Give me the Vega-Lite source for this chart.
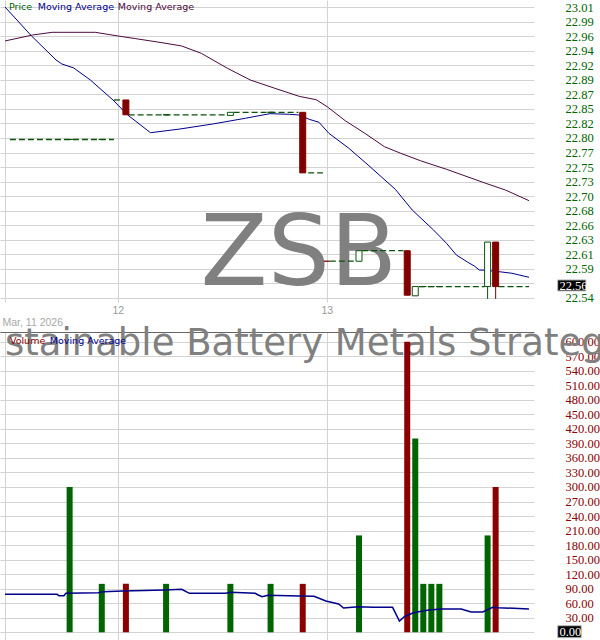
{
  "$schema": "https://vega.github.io/schema/vega-lite/v6.json",
  "padding": 0,
  "background": "white",
  "bounds": "flush",
  "spacing": 30,
  "resolve": {"scale": {"color": "independent", "fill": "independent", "stroke": "independent"}},
  "config": {
    "view": {"stroke": null},
    "axis": {"labelFont": "Liberation Sans", "titleFont": "Liberation Sans"}
  },
  "datasets": {
    "one": [{}],
    "candles": [
      {"k": -6, "o": 22.796, "h": 22.796, "l": 22.796, "c": 22.796, "v": 300, "dir": "up"},
      {"k": -2, "o": 22.796, "h": 22.796, "l": 22.796, "c": 22.796, "v": 100, "dir": "up"},
      {"k": 1, "o": 22.86, "h": 22.86, "l": 22.836, "c": 22.836, "v": 100, "dir": "down"},
      {"k": 6, "o": 22.836, "h": 22.836, "l": 22.836, "c": 22.836, "v": 100, "dir": "up"},
      {"k": 14, "o": 22.835, "h": 22.84, "l": 22.835, "c": 22.84, "v": 100, "dir": "up"},
      {"k": 19, "o": 22.84, "h": 22.84, "l": 22.84, "c": 22.84, "v": 100, "dir": "up"},
      {"k": 23, "o": 22.84, "h": 22.84, "l": 22.742, "c": 22.742, "v": 100, "dir": "down"},
      {"k": 30, "o": 22.599, "h": 22.616, "l": 22.599, "c": 22.616, "v": 200, "dir": "up"},
      {"k": 36, "o": 22.616, "h": 22.616, "l": 22.544, "c": 22.544, "v": 600, "dir": "down"},
      {"k": 37, "o": 22.543, "h": 22.558, "l": 22.543, "c": 22.558, "v": 400, "dir": "up"},
      {"k": 38, "o": 22.558, "h": 22.558, "l": 22.558, "c": 22.558, "v": 100, "dir": "up"},
      {"k": 39, "o": 22.558, "h": 22.558, "l": 22.558, "c": 22.558, "v": 100, "dir": "up"},
      {"k": 40, "o": 22.558, "h": 22.558, "l": 22.558, "c": 22.558, "v": 100, "dir": "up"},
      {"k": 46, "o": 22.558, "h": 22.63, "l": 22.538, "c": 22.63, "v": 200, "dir": "up"},
      {"k": 47, "o": 22.63, "h": 22.63, "l": 22.538, "c": 22.558, "v": 300, "dir": "down"}
    ],
    "steps": [
      {"k1": -13.43, "k2": -0.49, "p": 22.796, "t": "up"},
      {"k1": -0.49, "k2": 0.61, "p": 22.86, "t": "up"},
      {"k1": 1.34, "k2": 13.67, "p": 22.836, "t": "up"},
      {"k1": 14.4, "k2": 22.46, "p": 22.84, "t": "up"},
      {"k1": 23.68, "k2": 25.51, "p": 22.742, "t": "up"},
      {"k1": 25.63, "k2": 26.37, "p": 22.599, "t": "down"},
      {"k1": 26.37, "k2": 29.66, "p": 22.599, "t": "up"},
      {"k1": 30.39, "k2": 35.52, "p": 22.616, "t": "up"},
      {"k1": 37.44, "k2": 45.65, "p": 22.558, "t": "up"},
      {"k1": 47.36, "k2": 51.15, "p": 22.558, "t": "up"}
    ],
    "ma": [
      {"k": -14.04, "p": 23.0105, "s": "fast"},
      {"k": -10.74, "p": 22.9636, "s": "fast"},
      {"k": -7.69, "p": 22.9247, "s": "fast"},
      {"k": -6.96, "p": 22.9182, "s": "fast"},
      {"k": -5.49, "p": 22.9118, "s": "fast"},
      {"k": -3.42, "p": 22.8923, "s": "fast"},
      {"k": -0.61, "p": 22.86, "s": "fast"},
      {"k": 1.22, "p": 22.8357, "s": "fast"},
      {"k": 4.06, "p": 22.807, "s": "fast"},
      {"k": 7.73, "p": 22.813, "s": "fast"},
      {"k": 11.8, "p": 22.8211, "s": "fast"},
      {"k": 15.87, "p": 22.8304, "s": "fast"},
      {"k": 18.92, "p": 22.8378, "s": "fast"},
      {"k": 21.36, "p": 22.8368, "s": "fast"},
      {"k": 22.5, "p": 22.8357, "s": "fast"},
      {"k": 23.8, "p": 22.8287, "s": "fast"},
      {"k": 25.02, "p": 22.8239, "s": "fast"},
      {"k": 26.25, "p": 22.8061, "s": "fast"},
      {"k": 28.69, "p": 22.7823, "s": "fast"},
      {"k": 31.13, "p": 22.7548, "s": "fast"},
      {"k": 34.54, "p": 22.7151, "s": "fast"},
      {"k": 36.62, "p": 22.6819, "s": "fast"},
      {"k": 39.27, "p": 22.6496, "s": "fast"},
      {"k": 40.89, "p": 22.628, "s": "fast"},
      {"k": 42.11, "p": 22.6091, "s": "fast"},
      {"k": 43.54, "p": 22.5973, "s": "fast"},
      {"k": 44.35, "p": 22.5913, "s": "fast"},
      {"k": 44.96, "p": 22.5848, "s": "fast"},
      {"k": 45.77, "p": 22.5843, "s": "fast"},
      {"k": 47.4, "p": 22.5821, "s": "fast"},
      {"k": 49.03, "p": 22.5795, "s": "fast"},
      {"k": 51.15, "p": 22.573, "s": "fast"},
      {"k": -14.04, "p": 22.9555, "s": "slow"},
      {"k": -10.6, "p": 22.9652, "s": "slow"},
      {"k": -8.18, "p": 22.9695, "s": "slow"},
      {"k": -2.81, "p": 22.9695, "s": "slow"},
      {"k": 0, "p": 22.9636, "s": "slow"},
      {"k": 2.24, "p": 22.9592, "s": "slow"},
      {"k": 5.49, "p": 22.9527, "s": "slow"},
      {"k": 7.93, "p": 22.9474, "s": "slow"},
      {"k": 10.38, "p": 22.9355, "s": "slow"},
      {"k": 13.63, "p": 22.9113, "s": "slow"},
      {"k": 16.48, "p": 22.8923, "s": "slow"},
      {"k": 19.53, "p": 22.8789, "s": "slow"},
      {"k": 22.58, "p": 22.8658, "s": "slow"},
      {"k": 24.66, "p": 22.8605, "s": "slow"},
      {"k": 26.04, "p": 22.8491, "s": "slow"},
      {"k": 28.28, "p": 22.8265, "s": "slow"},
      {"k": 30.72, "p": 22.8061, "s": "slow"},
      {"k": 33.16, "p": 22.7844, "s": "slow"},
      {"k": 35.19, "p": 22.7737, "s": "slow"},
      {"k": 37.63, "p": 22.7617, "s": "slow"},
      {"k": 40.89, "p": 22.7478, "s": "slow"},
      {"k": 45.77, "p": 22.7251, "s": "slow"},
      {"k": 48.21, "p": 22.7143, "s": "slow"},
      {"k": 51.15, "p": 22.697, "s": "slow"}
    ],
    "vma": [
      {"k": -14.04, "v": 78.5}, {"k": -7.57, "v": 78.5}, {"k": -7.32, "v": 75.6},
      {"k": -6.71, "v": 75.6}, {"k": -6.47, "v": 80.5}, {"k": -2.44, "v": 81.8},
      {"k": -1.83, "v": 83.8}, {"k": 0.61, "v": 85.3}, {"k": 5.86, "v": 87.3},
      {"k": 7.93, "v": 88.8}, {"k": 8.91, "v": 80.5}, {"k": 13.43, "v": 80.5},
      {"k": 14.04, "v": 82.6}, {"k": 17.09, "v": 80.5}, {"k": 17.46, "v": 77.0},
      {"k": 17.94, "v": 73.5}, {"k": 18.68, "v": 76.4}, {"k": 22.58, "v": 75.0},
      {"k": 24.41, "v": 74.3}, {"k": 25.88, "v": 64.6}, {"k": 27.46, "v": 58.4},
      {"k": 28.08, "v": 50.2}, {"k": 29.91, "v": 52.9}, {"k": 31.74, "v": 51.6},
      {"k": 34.18, "v": 51.6}, {"k": 35.03, "v": 23.3}, {"k": 35.64, "v": 32.2},
      {"k": 36.62, "v": 39.2}, {"k": 37.23, "v": 41.9}, {"k": 38.69, "v": 46.0},
      {"k": 40.28, "v": 48.1}, {"k": 42.72, "v": 48.1}, {"k": 43.94, "v": 41.9},
      {"k": 45.41, "v": 41.9}, {"k": 46.63, "v": 51.6}, {"k": 47.36, "v": 50.8},
      {"k": 51.15, "v": 48.1}
    ]
  },
  "vconcat": [
    {
      "width": 534,
      "height": 302,
      "layer": [
        {
          "data": {"name": "one"},
          "mark": {"type": "text", "text": "ZSB", "font": "DejaVu Sans", "fontSize": 98, "color": "#808080", "align": "center", "baseline": "alphabetic"},
          "encoding": {
            "x": {"datum": 22.52, "type": "quantitative"},
            "y": {"datum": 22.5606, "type": "quantitative"}
          }
        },
        {
          "data": {"name": "candles"},
          "mark": {"type": "rule", "strokeWidth": 1},
          "encoding": {
            "x": {"field": "k", "type": "quantitative", "title": "Mar, 11 2026",
              "scale": {"domain": [-14.04, 51.15], "nice": false, "zero": false},
              "axis": {"orient": "bottom", "values": [-14.04, 0, 26], "tickCount": 30, "labelExpr": "datum.value == 0 ? '12' : datum.value == 26 ? '13' : ''",
                "grid": true, "gridColor": "#d3d3d3", "domain": false, "ticks": false, "tickSize": 0, "labelPadding": 3.5,
                "labelFontSize": 10.5, "labelColor": "#9a9a9a", "labelFlush": false, "labelOverlap": false,
                "titleFontSize": 10.5, "titleFontWeight": "normal", "titleColor": "#a8a8a8", "titleAnchor": "start", "titleAlign": "left", "titlePadding": 1, "titleX": 2}},
            "y": {"field": "l", "type": "quantitative", "title": null,
              "scale": {"domain": [22.533, 23.0218], "nice": false, "zero": false},
              "axis": {"orient": "right", "values": [22.54, 22.5635, 22.587, 22.6105, 22.634, 22.6576, 22.681, 22.7045, 22.728, 22.7515, 22.7749, 22.7985, 22.822, 22.8456, 22.869, 22.8925, 22.916, 22.9396, 22.963, 22.9866, 23.01],
                "tickCount": 30, "format": ".2f", "labelExpr": "datum.value > 22.56 && datum.value < 22.57 ? '' : datum.label",
                "grid": true, "gridColor": "#d3d3d3", "domain": false, "ticks": false, "tickSize": 0, "labelPadding": 31,
                "labelFont": "Liberation Sans Narrow", "labelFontSize": 12.5, "labelColor": "#006400", "labelOverlap": false, "title": null}},
            "y2": {"field": "h"},
            "stroke": {"field": "dir", "type": "nominal", "scale": {"domain": ["up", "down"], "range": ["#0b520b", "#800000"]}, "legend": null}
          }
        },
        {
          "data": {"name": "steps"},
          "mark": {"type": "rule", "strokeWidth": 1.3, "strokeDash": [6, 3]},
          "encoding": {
            "x": {"field": "k1", "type": "quantitative", "title": "Mar, 11 2026"},
            "x2": {"field": "k2"},
            "y": {"field": "p", "type": "quantitative", "title": null},
            "stroke": {"field": "t", "type": "nominal", "legend": null}
          }
        },
        {
          "data": {"name": "ma"},
          "mark": {"type": "line", "strokeWidth": 1},
          "encoding": {
            "x": {"field": "k", "type": "quantitative", "title": "Mar, 11 2026"},
            "y": {"field": "p", "type": "quantitative", "title": null},
            "color": {"field": "s", "type": "nominal", "scale": {"domain": ["fast", "slow"], "range": ["#00008b", "#4b0a40"]}, "legend": null}
          }
        },
        {
          "data": {"name": "candles"},
          "mark": {"type": "bar", "size": 6, "strokeWidth": 1},
          "encoding": {
            "x": {"field": "k", "type": "quantitative", "title": "Mar, 11 2026"},
            "y": {"field": "o", "type": "quantitative", "title": null},
            "y2": {"field": "c"},
            "fill": {"field": "dir", "type": "nominal", "scale": {"domain": ["up", "down"], "range": ["#ffffff", "#800000"]}, "legend": null},
            "stroke": {"field": "dir", "type": "nominal", "legend": null}
          }
        },
        {
          "data": {"name": "one"},
          "mark": {"type": "text", "text": "Price", "font": "DejaVu Sans", "fontSize": 9.5, "color": "#006400", "align": "left", "baseline": "middle"},
          "encoding": {"x": {"datum": -13.55, "type": "quantitative"}, "y": {"datum": 23.0103, "type": "quantitative"}}
        },
        {
          "data": {"name": "one"},
          "mark": {"type": "text", "text": "Moving Average", "font": "DejaVu Sans", "fontSize": 9.5, "color": "#00008b", "align": "left", "baseline": "middle"},
          "encoding": {"x": {"datum": -9.97, "type": "quantitative"}, "y": {"datum": 23.0103, "type": "quantitative"}}
        },
        {
          "data": {"name": "one"},
          "mark": {"type": "text", "text": "Moving Average", "font": "DejaVu Sans", "fontSize": 9.5, "color": "#4b0a40", "align": "left", "baseline": "middle"},
          "encoding": {"x": {"datum": 0, "type": "quantitative"}, "y": {"datum": 23.0103, "type": "quantitative"}}
        },
        {
          "data": {"name": "one"},
          "mark": {"type": "rect", "fill": "#000000", "stroke": "#bbbbbb", "strokeWidth": 1},
          "encoding": {
            "x": {"datum": 54.72, "type": "quantitative"}, "x2": {"datum": 58.23},
            "y": {"datum": 22.5687, "type": "quantitative"}, "y2": {"datum": 22.5509}
          }
        },
        {
          "data": {"name": "one"},
          "mark": {"type": "text", "text": "22.56", "font": "Liberation Sans Narrow", "fontSize": 12.5, "color": "#ffffff", "align": "left", "baseline": "middle"},
          "encoding": {"x": {"datum": 54.93, "type": "quantitative"}, "y": {"datum": 22.5597, "type": "quantitative"}}
        }
      ]
    },
    {
      "width": 534,
      "height": 308,
      "layer": [
        {
          "data": {"name": "one"},
          "mark": {"type": "text", "text": "stainable Battery Metals Strateg", "font": "DejaVu Sans", "fontSize": 37, "color": "#808080", "align": "left", "baseline": "alphabetic"},
          "encoding": {
            "x": {"datum": -14.04, "type": "quantitative"},
            "y": {"datum": 572.6, "type": "quantitative"}
          }
        },
        {
          "data": {"name": "candles"},
          "mark": {"type": "bar", "size": 6},
          "encoding": {
            "x": {"field": "k", "type": "quantitative", "title": null,
              "scale": {"domain": [-14.04, 51.15], "nice": false, "zero": false},
              "axis": {"orient": "top", "values": [-14.04, 0, 26], "tickCount": 30, "labels": false, "ticks": false, "tickSize": 0,
                "domain": true, "domainColor": "#666666", "domainWidth": 1, "grid": true, "gridColor": "#d3d3d3", "title": null}},
            "y": {"field": "v", "type": "quantitative", "title": null,
              "scale": {"domain": [-15.9, 620], "nice": false, "zero": false},
              "axis": {"orient": "right", "values": [0, 30, 60, 90, 120, 150, 180, 210, 240, 270, 300, 330, 360, 390, 420, 450, 480, 510, 540, 570, 600],
                "tickCount": 30, "format": ".2f", "labelExpr": "datum.value == 0 ? '' : datum.label",
                "grid": true, "gridColor": "#d3d3d3", "domain": false, "ticks": false, "tickSize": 0, "labelPadding": 31,
                "labelFont": "Liberation Sans Narrow", "labelFontSize": 12.5, "labelColor": "#8b0000", "labelOverlap": false, "title": null}},
            "color": {"field": "dir", "type": "nominal", "scale": {"domain": ["up", "down"], "range": ["#006400", "#8b0000"]}, "legend": null}
          }
        },
        {
          "data": {"name": "vma"},
          "mark": {"type": "line", "strokeWidth": 1.5, "color": "#00008b"},
          "encoding": {
            "x": {"field": "k", "type": "quantitative", "title": null},
            "y": {"field": "v", "type": "quantitative", "title": null}
          }
        },
        {
          "data": {"name": "one"},
          "mark": {"type": "text", "text": "Volume", "font": "DejaVu Sans", "fontSize": 9.5, "color": "#8b0000", "align": "left", "baseline": "middle"},
          "encoding": {"x": {"datum": -13.43, "type": "quantitative"}, "y": {"datum": 601.5, "type": "quantitative"}}
        },
        {
          "data": {"name": "one"},
          "mark": {"type": "text", "text": "Moving Average", "font": "DejaVu Sans", "fontSize": 9.5, "color": "#00008b", "align": "left", "baseline": "middle"},
          "encoding": {"x": {"datum": -8.46, "type": "quantitative"}, "y": {"datum": 601.5, "type": "quantitative"}}
        },
        {
          "data": {"name": "one"},
          "mark": {"type": "rect", "fill": "#000000", "stroke": "#bbbbbb", "strokeWidth": 1},
          "encoding": {
            "x": {"datum": 54.72, "type": "quantitative"}, "x2": {"datum": 57.65},
            "y": {"datum": 13.6, "type": "quantitative"}, "y2": {"datum": -11.2}
          }
        },
        {
          "data": {"name": "one"},
          "mark": {"type": "text", "text": "0.00", "font": "Liberation Sans Narrow", "fontSize": 12.5, "color": "#ffffff", "align": "left", "baseline": "middle"},
          "encoding": {"x": {"datum": 54.93, "type": "quantitative"}, "y": {"datum": 1.2, "type": "quantitative"}}
        }
      ]
    }
  ]
}
